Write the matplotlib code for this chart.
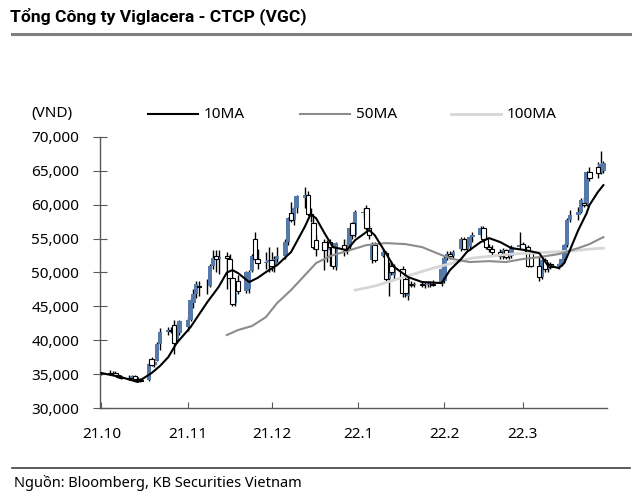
import matplotlib
matplotlib.use("Agg")
import matplotlib.pyplot as plt
import matplotlib.dates as mdates
from matplotlib.lines import Line2D
import pandas as pd

plt.rcParams['font.family'] = ['Noto Sans', 'DejaVu Sans']

title = 'Tổng Công ty Viglacera - CTCP (VGC)'
source = 'Nguồn: Bloomberg, KB Securities Vietnam'

# weekdays, oct 2021 -> mar 2022
dates = pd.bdate_range('2021-10-01', '2022-03-30')

opens = [
  35000, 35200, 35000, 35100, 34800, 34600, 34500, 34400, 34700, 34300, 34100, 34100, 37200, 36400, 37000, 39500, 41200, 41500, 42300, 40000, 41000,
  42000, 43000, 45500, 46800, 48000, 47800, 48000, 51000, 52500, 52000, 52500, 52000, 49200, 45500, 48800, 47200, 47500, 50200, 55000, 52000, 51400, 51600,
  51800, 51000, 52000, 52400, 54500, 58800, 57700, 59500, 61000, 61400, 58700, 57300, 54800, 54500, 53300, 54500, 53800, 50800, 54000, 53500, 53800, 57300, 55500,
  58800, 59500, 56500, 51800, 54000, 52500, 52900, 49000, 51000, 49600, 50500, 49000, 46500, 48300, 48200, 48300, 48100, 48200, 48300, 48300, 48300,
  48800, 52200, 52800, 52500, 53500, 55000, 53500, 53800, 55300, 55500, 56500, 55000, 53800, 53500, 53000, 52500, 53300, 52300, 52400, 53800,
  54200, 53500, 53800, 52900, 51000, 49300, 51800, 50500, 51200, 50800, 51200, 52000, 54000, 57800, 58500, 59000, 60200, 60000, 64800, 65500, 64700, 65000,
]
highs = [
  35300, 35600, 35500, 35400, 35000, 34900, 34800, 34900, 34900, 34600, 34400, 36800, 37600, 37000, 39800, 41800, 42000, 42000, 43000, 42500, 43000,
  43500, 46200, 47500, 48700, 48800, 49000, 51200, 53300, 53300, 53300, 53000, 52800, 50000, 47500, 49700, 50200, 50300, 52800, 56000, 53500, 53000, 53700,
  53000, 52500, 53700, 55000, 58200, 60400, 59800, 61500, 62600, 62000, 59500, 58500, 55500, 55000, 54800, 55000, 54200, 54500, 55000, 55000, 56800, 57500, 59200,
  59500, 60000, 57000, 54500, 54500, 53500, 53200, 51500, 51500, 51200, 51000, 49500, 49500, 48800, 48600, 48800, 48600, 48700, 48800, 48900, 50800,
  52500, 53200, 53200, 53300, 55300, 55200, 54000, 55500, 56000, 56800, 56800, 55500, 54200, 54000, 53500, 53600, 53500, 52700, 54000, 56000,
  54500, 54000, 54000, 53200, 52300, 52000, 52200, 51500, 51500, 51500, 52200, 54200, 58000, 59200, 59700, 61000, 61200, 65000, 65500, 66300, 68000, 66500,
]
lows = [
  34800, 34900, 34800, 34700, 34400, 34300, 34200, 34300, 34200, 33900, 33800, 34000, 36200, 36000, 36900, 38600, 40800, 41000, 38000, 39600, 40800,
  41300, 42800, 44800, 46200, 46500, 46800, 47800, 50500, 50000, 49800, 47500, 48500, 45000, 45000, 46800, 47000, 47000, 50000, 51800, 50500, 50500, 50000,
  50200, 50000, 51500, 52000, 54000, 57500, 57000, 58800, 59500, 58500, 57500, 53500, 52500, 50300, 51500, 51000, 50500, 50400, 52500, 52800, 53500, 55000, 55200,
  58000, 56300, 55000, 51400, 51500, 52300, 48800, 46500, 49600, 49000, 46400, 46400, 46000, 47800, 47800, 47900, 47700, 47800, 47900, 48000, 48000,
  48500, 51800, 52000, 52200, 53200, 53300, 53200, 53300, 54500, 55300, 54500, 53500, 53000, 52500, 52000, 52000, 52000, 52000, 52200, 53500,
  53300, 53000, 50800, 50800, 48800, 49000, 50000, 50000, 50500, 50500, 51000, 51800, 53700, 57500, 57800, 58800, 59600, 59800, 63500, 64000, 64500, 64700,
]
closes = [
  35200, 35000, 35100, 34800, 34600, 34500, 34400, 34700, 34300, 34100, 34000, 36500, 36400, 36800, 39500, 41200, 41500, 41400, 39600, 42300, 42800,
  43000, 45900, 46800, 48300, 47800, 47900, 51000, 52200, 52000, 52300, 52100, 49200, 45300, 47000, 47200, 50000, 50000, 52500, 52000, 51400, 51600, 51800,
  51000, 52000, 52400, 54500, 58000, 57700, 59500, 61300, 61400, 58700, 58500, 53800, 53500, 53300, 54500, 53800, 51000, 54300, 53500, 53800, 56600, 55500, 59000,
  59000, 56500, 55500, 54200, 51800, 53000, 49000, 51000, 50000, 51000, 47000, 47000, 49000, 48200, 48300, 48100, 48200, 48300, 48300, 48200, 50500,
  52200, 52800, 52500, 53000, 55000, 53500, 53800, 55300, 55500, 56500, 55000, 53800, 53500, 53000, 52500, 53300, 52300, 52400, 53800, 54000,
  53500, 53800, 51000, 51000, 49300, 51800, 50500, 51200, 50800, 51200, 52000, 54000, 57800, 58500, 59000, 60700, 60000, 64800, 64000, 64700, 66000, 66200,
]

ma10_dates = ['2021-10-01', '2021-10-08', '2021-10-14', '2021-10-19', '2021-10-22', '2021-10-25', '2021-10-28', '2021-11-02', '2021-11-05',
              '2021-11-08', '2021-11-12', '2021-11-15', '2021-11-17', '2021-11-19', '2021-11-23', '2021-11-26', '2021-11-29', '2021-12-03',
              '2021-12-08', '2021-12-13', '2021-12-15', '2021-12-17', '2021-12-20', '2021-12-23', '2021-12-28', '2021-12-31', '2022-01-05',
              '2022-01-07', '2022-01-11', '2022-01-14', '2022-01-19', '2022-01-24', '2022-01-31', '2022-02-03', '2022-02-07', '2022-02-09',
              '2022-02-14', '2022-02-17', '2022-02-21', '2022-02-25', '2022-03-02', '2022-03-07', '2022-03-10', '2022-03-14', '2022-03-16',
              '2022-03-18', '2022-03-21', '2022-03-24', '2022-03-25', '2022-03-28', '2022-03-30']
ma10 = [35160, 34570, 33840, 35160, 36200, 37520, 39590, 41950, 43800,
        45640, 47850, 50000, 50350, 49910, 48590, 49200, 50060, 51090,
        53010, 56800, 58600, 58000, 55810, 53750, 53300, 54780, 56260,
        55520, 52860, 50800, 49320, 48590, 48440, 50360, 52000, 53010,
        54490, 55080, 54490, 53600, 53300, 52860, 51090, 50650, 51390,
        53300, 56260, 58760, 59940, 61860, 62890]

ma50_dates = ['2021-11-15', '2021-11-19', '2021-11-24', '2021-11-29', '2021-12-03', '2021-12-08', '2021-12-13', '2021-12-17',
              '2021-12-22', '2021-12-28', '2022-01-04', '2022-01-11', '2022-01-18', '2022-01-24', '2022-01-31', '2022-02-04',
              '2022-02-10', '2022-02-17', '2022-02-23', '2022-03-01', '2022-03-07', '2022-03-14', '2022-03-21', '2022-03-25',
              '2022-03-30']
ma50 = [40770, 41510, 42100, 43420, 45490, 47410, 49620, 51390,
        52420, 53160, 54040, 54340, 54190, 53750, 52570, 51980,
        51540, 51680, 51540, 51980, 52270, 52720, 53600, 54190,
        55220]

ma100_dates = ['2021-12-31', '2022-01-07', '2022-01-14', '2022-01-21', '2022-01-28', '2022-02-04', '2022-02-11', '2022-02-18',
               '2022-02-25', '2022-03-04', '2022-03-11', '2022-03-18', '2022-03-25', '2022-03-30']
ma100 = [47400, 48000, 48880, 49770, 50650, 51390, 52130, 52420,
         52720, 52860, 53010, 53160, 53450, 53600]

month_ticks = ['2021-10-01', '2021-11-01', '2021-12-01', '2022-01-01', '2022-02-01', '2022-03-01']
month_labels = ['21.10', '21.11', '21.12', '22.1', '22.2', '22.3']
yticks = [30000, 35000, 40000, 45000, 50000, 55000, 60000, 65000, 70000]

blue = '#5479aa'

fig = plt.figure(figsize=(6.4, 4.98), dpi=100)
ax = fig.add_axes([100/640, 1 - 408/498, 507/640, 271/498])

x = mdates.date2num(dates)
ax.vlines(x, lows, highs, color='black', lw=1.0, zorder=2)

up_x = [xi for xi, o, c in zip(x, opens, closes) if c >= o]
up_b = [o for o, c in zip(opens, closes) if c >= o]
up_h = [c - o for o, c in zip(opens, closes) if c >= o]
dn_x = [xi for xi, o, c in zip(x, opens, closes) if c < o]
dn_b = [c for o, c in zip(opens, closes) if c < o]
dn_h = [o - c for o, c in zip(opens, closes) if c < o]
ax.bar(up_x, up_h, bottom=up_b, width=1.6, color=blue, lw=0, zorder=3)
ax.bar(dn_x, dn_h, bottom=dn_b, width=1.6, facecolor='white', edgecolor='black', lw=0.8, zorder=3)

ax.plot(mdates.date2num(pd.to_datetime(ma100_dates)), ma100, color='#d6d6d6', lw=2.0, zorder=4)
ax.plot(mdates.date2num(pd.to_datetime(ma50_dates)), ma50, color='#8c8c8c', lw=1.5, zorder=4)
ax.plot(mdates.date2num(pd.to_datetime(ma10_dates)), ma10, color='black', lw=1.5, zorder=5)

x0 = mdates.date2num(pd.Timestamp('2021-10-01'))
ax.set_xlim(x0 - 0.5, x0 + 181.3)
ax.set_ylim(30000, 70000)

ax.set_xticks(mdates.date2num(pd.to_datetime(month_ticks)))
ax.set_xticklabels(month_labels)
ax.set_yticks(yticks)
ax.set_yticklabels([f'{v:,}' for v in yticks])

for s in ['top', 'right']:
  ax.spines[s].set_visible(False)
for s in ['left', 'bottom']:
  ax.spines[s].set_color('#595959')
  ax.spines[s].set_linewidth(1)

ax.tick_params(axis='x', direction='in', length=4, pad=14, labelsize=11, color='#595959')
ax.tick_params(axis='y', direction='inout', length=10, pad=10, labelsize=11, color='#595959')

# header
fig.text(10/640, 1 - 16/498, title, fontsize=12.6, fontweight='bold', va='center', ha='left',
         family=['Roboto', 'DejaVu Sans'])
fig.add_artist(Line2D([12/640, 630/640], [1 - 34/498, 1 - 34/498], color='#7f7f7f', lw=2.2))

# legend
ly = 1 - 114/498
fig.text(52/640, ly, '(VND)', fontsize=11, ha='center', va='center')
legend = [('10MA', 'black', 1.5, 148), ('50MA', '#8c8c8c', 1.5, 300), ('100MA', '#d6d6d6', 2.0, 451)]
for name, col, lw, lx in legend:
  fig.add_artist(Line2D([lx/640, (lx + 50)/640], [ly, ly], color=col, lw=lw))
  fig.text((lx + 56)/640, ly, name, fontsize=11, ha='left', va='center')

# footer
fig.add_artist(Line2D([12/640, 630/640], [1 - 468/498, 1 - 468/498], color='#404040', lw=1.2))
fig.text(14/640, 1 - 483/498, source, fontsize=10.5, ha='left', va='center')

fig.savefig('out.png', dpi=100)
